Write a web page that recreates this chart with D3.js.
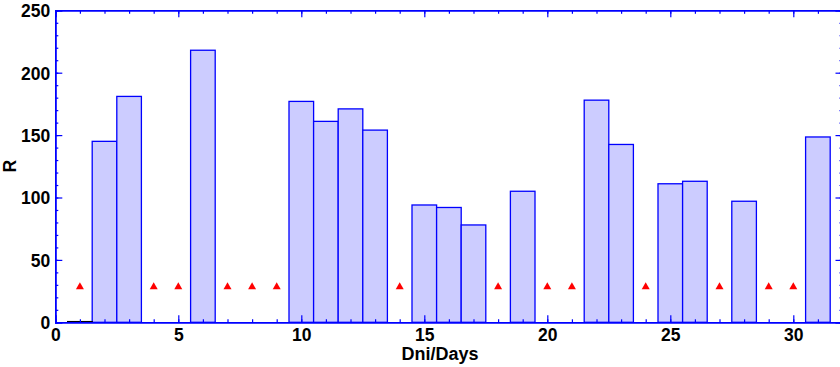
<!DOCTYPE html>
<html>
<head>
<meta charset="utf-8">
<script src="https://cdn.jsdelivr.net/npm/d3@7"></script>
<style>
  html, body { margin: 0; padding: 0; background: #fff; }
  svg { display: block; }
  text { font-family: "Liberation Sans", Arial, sans-serif; font-weight: bold; }
</style>
</head>
<body>
<svg id="chart" width="840" height="367"></svg>
<script>
// ---- data ----
const barDays   = [2, 3, 6, 10, 11, 12, 13, 15, 16, 17, 19, 22, 23, 25, 26, 28, 31];
const barValues = [145, 181, 218, 177, 161, 171, 154, 94, 92, 78, 105, 178, 142.5, 111, 113, 97, 148.5];
const zeroDays   = [1];
const zeroValues = [0.6];
const markerDays   = [1, 4, 5, 7, 8, 9, 14, 18, 20, 21, 24, 27, 29, 30];
const markerValues = [30, 30, 30, 30, 30, 30, 30, 30, 30, 30, 30, 30, 30, 30];
const xTicks = [0, 5, 10, 15, 20, 25, 30];
const yTicks = [0, 50, 100, 150, 200, 250];
const xLabel = "Dni/Days";
const yLabel = "R";

// ---- layout ----
const mLeft = 55.3, mRight = 842.5, mTop = 10.3, mBottom = 322.3;
const svg = d3.select("#chart");
const x = d3.scaleLinear().domain([0, 32]).range([mLeft, mRight]);
const y = d3.scaleLinear().domain([0, 250]).range([mBottom, mTop]);
const blue = "#0000ff";

// bars
const bars = barDays.map((d, i) => ({ day: d, v: barValues[i] }));
svg.append("g").selectAll("rect").data(bars).join("rect")
  .attr("x", d => x(d.day - 0.5))
  .attr("y", d => y(d.v))
  .attr("width", d => x(d.day + 0.5) - x(d.day - 0.5))
  .attr("height", d => y(0) - y(d.v))
  .attr("fill", "#ccccff")
  .attr("stroke", blue)
  .attr("stroke-width", 1.3);

// near-zero bar (black)
const zeros = zeroDays.map((d, i) => ({ day: d, v: zeroValues[i] }));
svg.append("g").selectAll("rect").data(zeros).join("rect")
  .attr("x", d => x(d.day - 0.5))
  .attr("y", d => y(d.v))
  .attr("width", d => x(d.day + 0.5) - x(d.day - 0.5))
  .attr("height", d => y(0) - y(d.v))
  .attr("fill", "#000")
  .attr("stroke", "#000")
  .attr("stroke-width", 1.2);

// axes frame
const gx = svg.append("g").attr("transform", `translate(0,${mBottom})`)
  .call(d3.axisBottom(x).tickValues(d3.range(0, 33, 1)).tickSize(-3).tickFormat(""));
const gx2 = svg.append("g").attr("transform", `translate(0,${mBottom})`)
  .call(d3.axisBottom(x).tickValues(xTicks).tickSize(-7).tickFormat(d3.format("d")));
const gxt = svg.append("g").attr("transform", `translate(0,${mTop})`)
  .call(d3.axisTop(x).tickValues(d3.range(0, 33, 1)).tickSize(-3.5).tickFormat(""));
const gxt2 = svg.append("g").attr("transform", `translate(0,${mTop})`)
  .call(d3.axisTop(x).tickValues(xTicks).tickSize(-7).tickFormat(""));
const gy = svg.append("g").attr("transform", `translate(${mLeft},0)`)
  .call(d3.axisLeft(y).tickValues(d3.range(0, 251, 10)).tickSize(-3).tickFormat(""));
const gy2 = svg.append("g").attr("transform", `translate(${mLeft},0)`)
  .call(d3.axisLeft(y).tickValues(yTicks).tickSize(-7).tickFormat(d3.format("d")));
const gyr = svg.append("g").attr("transform", `translate(${mRight},0)`)
  .call(d3.axisRight(y).tickValues(d3.range(0, 251, 10)).tickSize(-3).tickFormat(""));
const gyr2 = svg.append("g").attr("transform", `translate(${mRight},0)`)
  .call(d3.axisRight(y).tickValues(yTicks).tickSize(-7).tickFormat(""));

[gx, gx2, gxt, gxt2, gy, gy2, gyr, gyr2].forEach(g => {
  g.selectAll("path.domain").attr("stroke", blue).attr("stroke-width", 1.5);
  g.selectAll(".tick line").attr("stroke", blue).attr("stroke-width", 1.2);
  g.selectAll(".tick text").attr("fill", "#000")
    .style("font-size", "17.5px").style("font-weight", "bold")
    .style("font-family", "'Liberation Sans', Arial, sans-serif");
});
gx2.selectAll(".tick text").attr("y", 6).attr("dy", "0.71em");
gy2.selectAll(".tick text").attr("x", -5).attr("dy", "0.36em");

// markers (red triangles)
const marks = markerDays.map((d, i) => ({ day: d, v: markerValues[i] }));
svg.append("g").selectAll("path").data(marks).join("path")
  .attr("d", d => {
    const cx = x(d.day), cy = y(d.v) + 1;
    return `M${cx - 4},${cy + 3.5} L${cx},${cy - 3.5} L${cx + 4},${cy + 3.5} Z`;
  })
  .attr("fill", "#ff0000");

// axis titles
svg.append("text")
  .attr("x", 440).attr("y", 359.5)
  .attr("text-anchor", "middle")
  .style("font-size", "18px")
  .text(xLabel);
svg.append("text")
  .attr("transform", `translate(16,${(mTop + mBottom) / 2}) rotate(-90)`)
  .attr("text-anchor", "middle")
  .style("font-size", "17.5px")
  .text(yLabel);
</script>
</body>
</html>
